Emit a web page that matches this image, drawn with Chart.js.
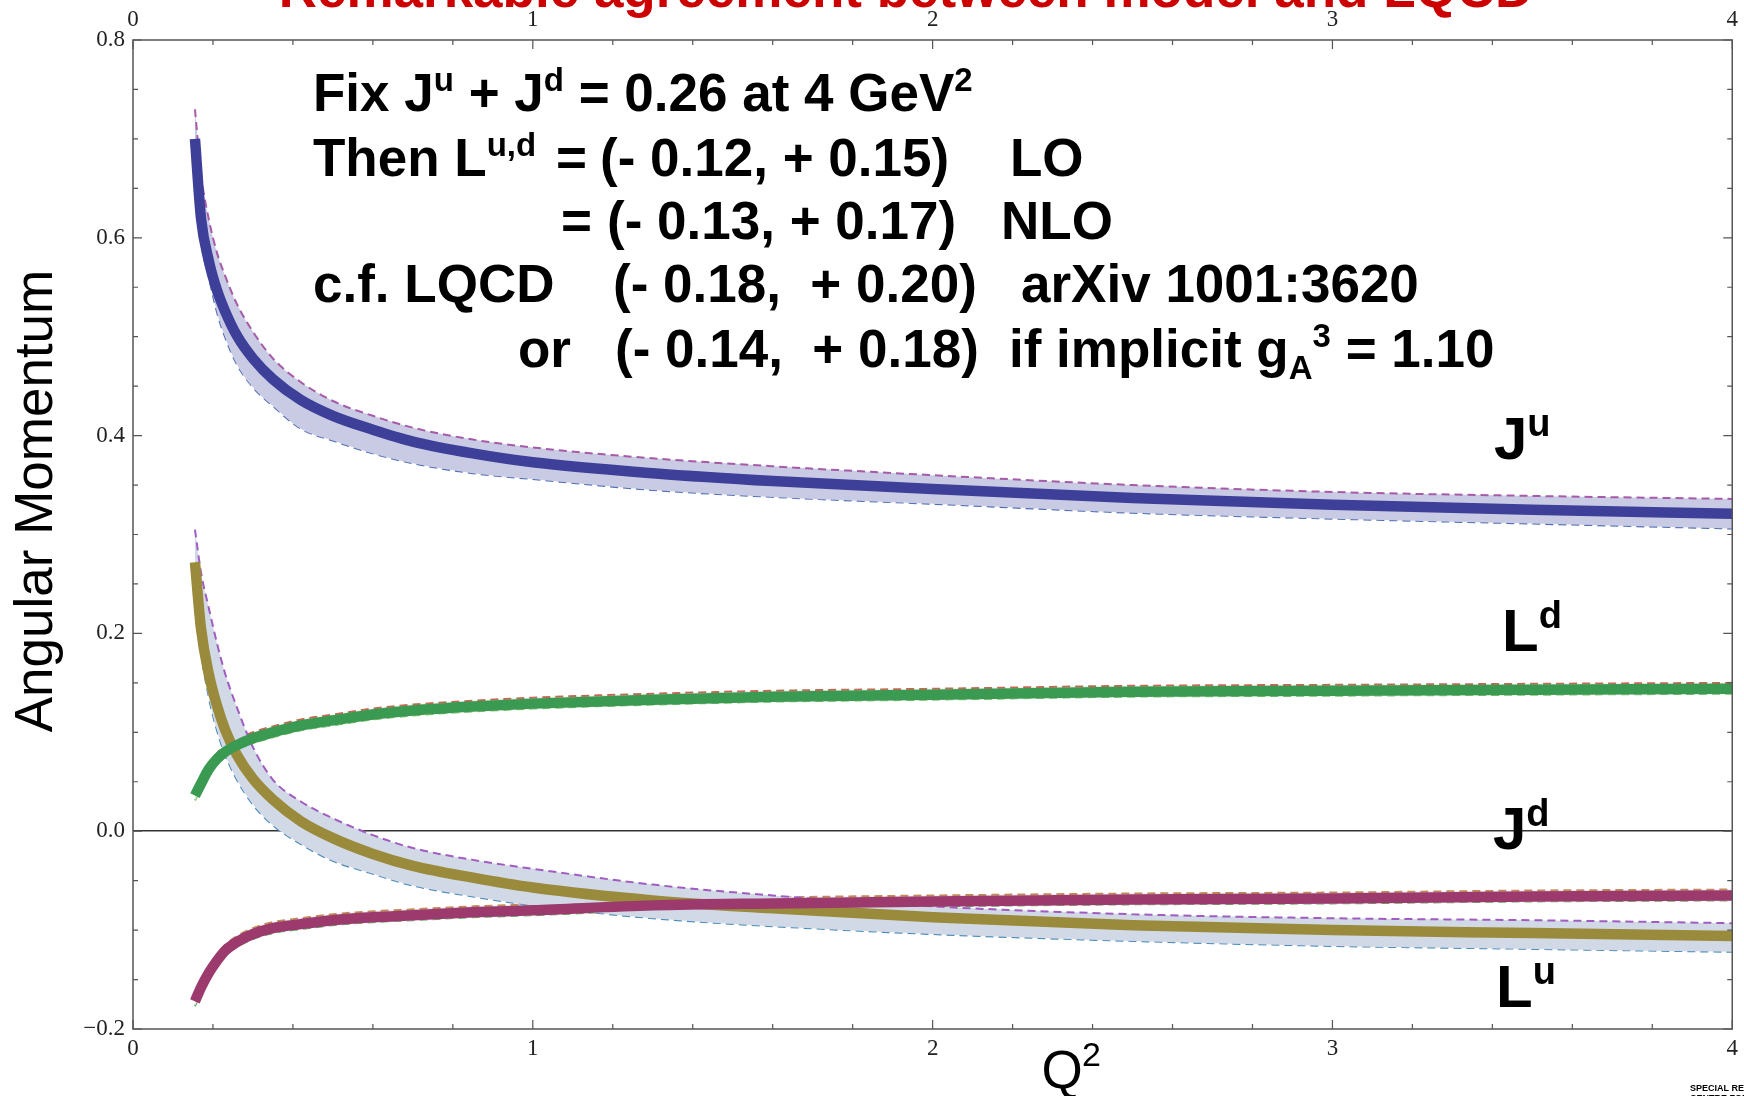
<!DOCTYPE html>
<html>
<head>
<meta charset="utf-8">
<script src="https://cdn.jsdelivr.net/npm/chart.js@4"></script>
<style>
  html, body { margin: 0; padding: 0; background: #fff; }
  #wrap { width: 1744px; height: 1096px; }
</style>
</head>
<body>
<div id="wrap"><canvas id="jChart" width="1744" height="1096"></canvas></div>
<script>
// Q^2 sample points (GeV^2)
const q2 = [0.155, 0.17, 0.19, 0.21, 0.23, 0.26, 0.3, 0.35, 0.42, 0.5, 0.6, 0.7, 0.85, 1.0, 1.3, 1.6, 2.0, 2.5, 3.0, 3.5, 4.0];

// J^u with band
const juMid = [0.700, 0.620, 0.576, 0.547, 0.526, 0.501, 0.478, 0.457, 0.436, 0.420, 0.406, 0.394, 0.382, 0.373, 0.362, 0.354, 0.346, 0.337, 0.330, 0.325, 0.321];
const juHi  = [0.730, 0.665, 0.618, 0.585, 0.562, 0.533, 0.505, 0.478, 0.454, 0.435, 0.420, 0.408, 0.396, 0.388, 0.377, 0.369, 0.360, 0.350, 0.343, 0.339, 0.336];
const juLo  = [0.685, 0.600, 0.560, 0.525, 0.500, 0.472, 0.449, 0.430, 0.407, 0.395, 0.382, 0.372, 0.362, 0.356, 0.345, 0.338, 0.331, 0.322, 0.316, 0.311, 0.306];

// J^d with band
const jdMid = [0.272, 0.205, 0.158, 0.127, 0.103, 0.077, 0.053, 0.032, 0.010, -0.007, -0.023, -0.035, -0.047, -0.057, -0.070, -0.078, -0.087, -0.095, -0.100, -0.103, -0.106];
const jdHi  = [0.305, 0.262, 0.225, 0.190, 0.160, 0.125, 0.085, 0.052, 0.030, 0.013, -0.004, -0.017, -0.029, -0.038, -0.054, -0.065, -0.076, -0.084, -0.088, -0.090, -0.093];
const jdLo  = [0.262, 0.185, 0.135, 0.102, 0.078, 0.052, 0.027, 0.006, -0.013, -0.030, -0.043, -0.055, -0.066, -0.075, -0.088, -0.096, -0.104, -0.111, -0.116, -0.119, -0.122];

// L^d with band
const ldMid = [0.036, 0.048, 0.063, 0.073, 0.080, 0.087, 0.094, 0.100, 0.107, 0.112, 0.118, 0.122, 0.126, 0.129, 0.133, 0.136, 0.138, 0.141, 0.142, 0.143, 0.144];
const ldHi  = [0.042, 0.054, 0.069, 0.079, 0.086, 0.093, 0.100, 0.106, 0.113, 0.118, 0.124, 0.128, 0.132, 0.135, 0.139, 0.142, 0.144, 0.147, 0.148, 0.149, 0.150];
const ldLo  = [0.031, 0.043, 0.058, 0.068, 0.075, 0.082, 0.089, 0.095, 0.102, 0.107, 0.113, 0.117, 0.121, 0.124, 0.128, 0.131, 0.133, 0.136, 0.137, 0.138, 0.139];

// L^u with band
const luMid = [-0.172, -0.158, -0.143, -0.131, -0.121, -0.112, -0.104, -0.098, -0.094, -0.090, -0.087, -0.085, -0.082, -0.080, -0.075, -0.073, -0.071, -0.069, -0.068, -0.066, -0.065];
const luHi  = [-0.166, -0.152, -0.137, -0.125, -0.115, -0.106, -0.098, -0.092, -0.088, -0.084, -0.081, -0.079, -0.076, -0.074, -0.069, -0.067, -0.065, -0.063, -0.062, -0.060, -0.059];
const luLo  = [-0.177, -0.163, -0.148, -0.136, -0.126, -0.117, -0.109, -0.103, -0.099, -0.095, -0.092, -0.090, -0.087, -0.085, -0.080, -0.078, -0.076, -0.074, -0.073, -0.071, -0.070];

const xMin = 0, xMax = 4, yMin = -0.2, yMax = 0.8;

const SANS = '"Liberation Sans", Arial, Helvetica, sans-serif';
const SERIF = '"Liberation Serif", "Times New Roman", serif';

function pts(ys) {
    return q2.map((x, i) => ({ x: x, y: ys[i] }));
}

function dashed(ys, color, fillColor, order) {
    return {
        data: pts(ys),
        borderColor: color,
        borderWidth: 2,
        borderDash: [8, 5],
        pointRadius: 0,
        cubicInterpolationMode: 'monotone',
        fill: fillColor ? { target: '+1', above: fillColor, below: fillColor } : false,
        backgroundColor: fillColor || 'transparent',
        order: order
    };
}

function thick(ys, color, order) {
    return {
        data: pts(ys),
        borderColor: color,
        borderWidth: 10.5,
        borderCapStyle: 'butt',
        pointRadius: 0,
        cubicInterpolationMode: 'monotone',
        fill: false,
        order: order
    };
}

// draw text runs with super/subscripts
function drawRuns(ctx, x, y, runs, size) {
    runs.forEach(r => {
        const s = (r.sup || r.sub) ? Math.round(size * 0.63) : size;
        ctx.font = 'bold ' + s + 'px ' + SANS;
        let dy = 0;
        if (r.sup) dy = -size * 0.38;
        if (r.sub) dy = size * 0.22;
        ctx.fillText(r.t, x, y + dy);
        x += ctx.measureText(r.t).width;
    });
}

const decor = {
    id: 'decor',
    afterDraw(chart) {
        const ctx = chart.ctx;
        const a = chart.chartArea;
        const xs = chart.scales.x, ys = chart.scales.y;
        ctx.save();

        // frame
        ctx.strokeStyle = '#555';
        ctx.lineWidth = 1.5;
        ctx.strokeRect(a.left, a.top, a.right - a.left, a.bottom - a.top);

        // inward ticks
        ctx.lineWidth = 1.2;
        ctx.beginPath();
        for (let i = 0; i <= 20; i++) {
            const px = xs.getPixelForValue(i * 0.2);
            const len = (i % 5 === 0) ? 9 : 5;
            ctx.moveTo(px, a.bottom); ctx.lineTo(px, a.bottom - len);
            ctx.moveTo(px, a.top); ctx.lineTo(px, a.top + len);
        }
        for (let i = 0; i <= 20; i++) {
            const py = ys.getPixelForValue(yMin + i * 0.05);
            const len = (i % 4 === 0) ? 9 : 5;
            ctx.moveTo(a.left, py); ctx.lineTo(a.left + len, py);
            ctx.moveTo(a.right, py); ctx.lineTo(a.right - len, py);
        }
        ctx.stroke();

        ctx.textBaseline = 'alphabetic';

        // title (cropped at top in the reference)
        ctx.fillStyle = '#cc0000';
        ctx.font = 'bold 53px ' + SANS;
        ctx.textAlign = 'center';
        ctx.fillText('Remarkable agreement between model and LQCD', 906, 7);

        // axis titles
        ctx.fillStyle = '#000';
        ctx.font = '53px ' + SANS;
        ctx.fillText('Q', 1062, 1088);
        ctx.font = '34px ' + SANS;
        ctx.textAlign = 'left';
        ctx.fillText('2', 1082, 1066);

        ctx.save();
        ctx.translate(52, 501);
        ctx.rotate(-Math.PI / 2);
        ctx.textAlign = 'center';
        ctx.font = '53px ' + SANS;
        ctx.fillText('Angular Momentum', 0, 0);
        ctx.restore();

        // annotation block
        ctx.textAlign = 'left';
        const fs = 53;
        drawRuns(ctx, 313, 111, [{ t: 'Fix J' }, { t: 'u', sup: true }, { t: ' + J' }, { t: 'd', sup: true }, { t: ' = 0.26 at 4 GeV' }, { t: '2', sup: true }], fs);
        drawRuns(ctx, 313, 176, [{ t: 'Then L' }, { t: 'u,d', sup: true }], fs);
        drawRuns(ctx, 556, 176, [{ t: '=' }], fs);
        drawRuns(ctx, 600, 176, [{ t: '(- 0.12, + 0.15)' }], fs);
        drawRuns(ctx, 1010, 176, [{ t: 'LO' }], fs);
        drawRuns(ctx, 561, 239, [{ t: '=' }], fs);
        drawRuns(ctx, 607, 239, [{ t: '(- 0.13, + 0.17)' }], fs);
        drawRuns(ctx, 1001, 239, [{ t: 'NLO' }], fs);
        drawRuns(ctx, 313, 302, [{ t: 'c.f. LQCD' }], fs);
        drawRuns(ctx, 613, 302, [{ t: '(- 0.18,  + 0.20)' }], fs);
        drawRuns(ctx, 1021, 302, [{ t: 'arXiv 1001:3620' }], fs);
        drawRuns(ctx, 518, 367, [{ t: 'or' }], fs);
        drawRuns(ctx, 615, 367, [{ t: '(- 0.14,  + 0.18)' }], fs);
        drawRuns(ctx, 1009, 367, [{ t: 'if implicit g' }, { t: 'A', sub: true }, { t: '3', sup: true }, { t: ' = 1.10' }], fs);

        // curve labels
        const ls = 60;
        drawRuns(ctx, 1494, 459, [{ t: 'J' }, { t: 'u', sup: true }], ls);
        drawRuns(ctx, 1502, 651, [{ t: 'L' }, { t: 'd', sup: true }], ls);
        drawRuns(ctx, 1493, 849, [{ t: 'J' }, { t: 'd', sup: true }], ls);
        drawRuns(ctx, 1496, 1007, [{ t: 'L' }, { t: 'u', sup: true }], ls);

        // cropped logo text at bottom right
        ctx.font = 'bold 9px ' + SANS;
        ctx.fillText('SPECIAL RESEARCH', 1690, 1091);
        ctx.fillText('CENTRE FOR THE', 1690, 1101);

        ctx.restore();
    }
};

function fmtTick(v) {
    const s = (Math.abs(v) < 1e-9 ? 0 : v).toFixed(1);
    return s.replace('-', '\u2212');
}

const tickFont = { family: SERIF, size: 23 };

new Chart(document.getElementById('jChart'), {
    type: 'line',
    data: {
        datasets: [
            dashed(juHi, '#a65aa8', '#c9cbe5', 5),
            dashed(juLo, '#4f6fb2', null, 5),
            dashed(jdHi, '#a05cc0', '#d1d9e6', 5),
            dashed(jdLo, '#4a8ab8', null, 5),
            dashed(ldHi, '#c06a55', '#e6eadc', 5),
            dashed(ldLo, '#7cc06c', null, 5),
            dashed(luHi, '#c08a5a', '#efe0e6', 5),
            dashed(luLo, '#62b062', null, 5),
            thick(juMid, '#3d3f98', 0),
            thick(jdMid, '#9a8a3c', 3),
            thick(ldMid, '#3a9a52', 2),
            thick(luMid, '#9c3a6e', 1)
        ]
    },
    options: {
        responsive: false,
        animation: false,
        layout: { padding: { left: 0, right: 11, top: 0, bottom: 0 } },
        plugins: {
            legend: { display: false },
            tooltip: { enabled: false },
            title: { display: false }
        },
        scales: {
            x: {
                type: 'linear',
                position: 'bottom',
                min: xMin,
                max: xMax,
                afterFit(scale) { scale.height = 67; },
                grid: { display: false, drawTicks: false },
                border: { display: false },
                ticks: {
                    stepSize: 1,
                    padding: 6,
                    color: '#222',
                    font: tickFont,
                    callback: v => String(v)
                }
            },
            x2: {
                type: 'linear',
                position: 'top',
                min: xMin,
                max: xMax,
                afterFit(scale) { scale.height = 40; },
                grid: { display: false, drawTicks: false },
                border: { display: false },
                ticks: {
                    stepSize: 1,
                    padding: 6,
                    color: '#222',
                    font: tickFont,
                    callback: v => String(v)
                }
            },
            y: {
                type: 'linear',
                min: yMin,
                max: yMax,
                afterFit(scale) { scale.width = 133; },
                grid: {
                    drawTicks: false,
                    lineWidth: 1.5,
                    color: ctx => (ctx.tick && Math.abs(ctx.tick.value) < 1e-9) ? '#333' : 'rgba(0,0,0,0)'
                },
                border: { display: false },
                ticks: {
                    stepSize: 0.2,
                    padding: 8,
                    color: '#222',
                    font: tickFont,
                    callback: v => fmtTick(v)
                }
            }
        }
    },
    plugins: [decor]
});
</script>
</body>
</html>
